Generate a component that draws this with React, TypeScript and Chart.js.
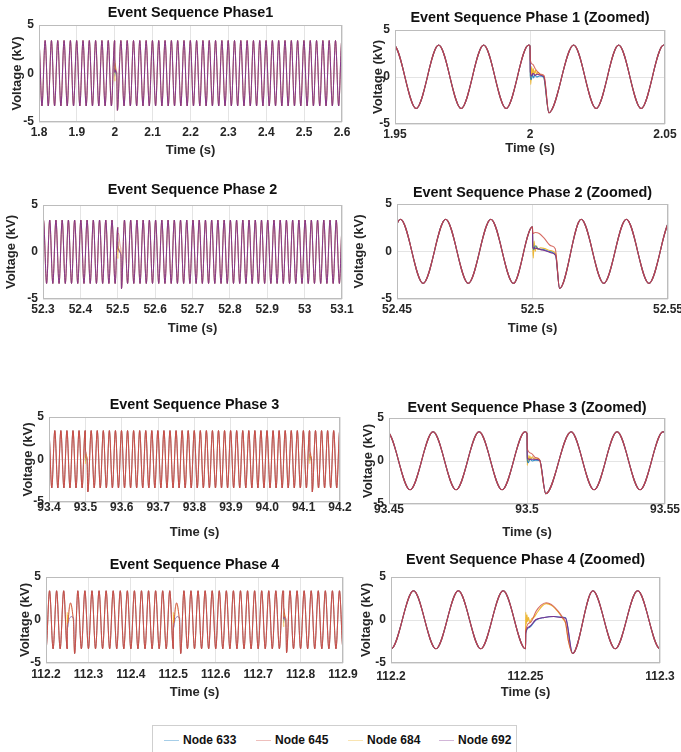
import React, { useEffect, useRef } from 'react';
import { Chart, registerables } from 'chart.js';

Chart.register(...registerables);

// ---------------- DATA ----------------
const NODE_NAMES = ['Node 633', 'Node 645', 'Node 684', 'Node 692'];

// steady-state waveform
const PERIOD_S = 0.016667; // one cycle (s)
const PEAK_KV = 3.4;
const TROUGH_KV = -3.35;

// time of a steady-state crest near each event (s)
const PHASE1_CREST = 1.9995;
const PHASE2_CREST = 52.5013;
const PHASE3_CREST = 93.4993;
const PHASE4_CREST = 112.2417;

// event transients: [ms after event, kV] per node
const EVA_633 = [[0, 3.3], [0.1, 0.1], [0.5, -0.3], [0.9, 0.3], [1.3, -0.1], [1.8, 0.2], [2.5, 0.0], [3.5, 0.1], [5.0, 0.0], [7.0, -3.8]];
const EVA_645 = [[0, 3.3], [0.1, 1.8], [1.0, 1.35], [2.0, 0.85], [3.0, 0.5], [4.0, 0.3], [5.2, 0.15], [7.0, -3.8]];
const EVA_684 = [[0, 3.3], [0.1, 0.9], [0.3, -0.8], [0.6, 1.1], [0.9, 0.2], [1.2, 0.9], [1.6, 0.3], [2.0, 0.7], [2.5, 0.3], [3.0, 0.5], [3.8, 0.25], [5.0, 0.1], [7.0, -3.8]];
const EVA_692 = [[0, 3.3], [0.1, 0.6], [0.6, 0.1], [1.1, 0.4], [1.8, 0.2], [2.8, 0.3], [3.8, 0.2], [5.2, 0.0], [7.0, -3.8]];

const EVB_633 = [[0, 2.6], [0.1, 0.5], [0.5, 0.2], [1.0, 0.6], [2.0, 0.3], [4.0, 0.2], [6.0, 0.0], [8.5, -0.4], [10.0, -3.9]];
const EVB_645 = [[0, 2.6], [0.1, 1.9], [1.0, 2.0], [2.5, 1.9], [4.3, 1.4], [6.8, 0.6], [8.4, 0.3], [10.0, -3.9]];
const EVB_684 = [[0, 2.6], [0.1, 0.7], [0.3, -0.7], [0.6, 1.1], [1.0, 0.0], [1.5, 0.6], [2.0, 0.2], [3.0, 0.4], [4.5, 0.3], [6.5, 0.1], [8.5, -0.2], [10.0, -3.9]];
const EVB_692 = [[0, 2.6], [0.1, 0.4], [1.0, 0.35], [3.0, 0.2], [5.0, 0.05], [7.0, -0.15], [8.6, -0.45], [10.0, -3.9]];

const EVC_633 = [[0, 3.2], [0.1, 0.1], [0.5, -0.2], [1.0, 0.2], [2.0, 0.0], [3.0, 0.1], [4.6, 0.05], [6.8, -3.8]];
const EVC_645 = [[0, 3.2], [0.1, 1.4], [1.5, 0.9], [3.0, 0.4], [4.5, 0.2], [6.8, -3.8]];
const EVC_684 = [[0, 3.2], [0.1, -0.5], [0.35, 0.7], [0.7, 0.0], [1.0, 0.6], [1.4, 0.2], [1.9, 0.5], [2.5, 0.25], [3.2, 0.35], [4.6, 0.1], [6.8, -3.8]];
const EVC_692 = [[0, 3.2], [0.1, 0.3], [1.0, 0.2], [2.5, 0.2], [4.6, 0.1], [6.8, -3.8]];

const EVD_633 = [[0, -3.35], [0.1, -1.6], [1.3, -0.9], [3.9, 0.0], [7.0, 0.3], [10.5, 0.4], [13.0, 0.35], [14.9, 0.25], [17.5, -3.9]];
const EVD_645 = [[0, -3.35], [0.1, -1.2], [1.8, -0.3], [3.9, 1.0], [5.7, 1.7], [7.7, 2.0], [9.6, 1.8], [12.2, 1.0], [14.0, 0.2], [14.9, -0.3], [16.0, -2.5], [17.5, -3.9]];
const EVD_684 = [[0, -3.35], [0.1, 0.9], [0.3, -0.5], [0.55, 0.6], [0.8, -0.2], [1.1, 0.3], [1.6, -0.3], [2.2, 0.1], [3.1, 0.3], [4.4, 0.9], [6.1, 1.6], [7.7, 1.9], [9.6, 1.7], [12.2, 0.9], [14.0, 0.1], [14.9, -0.4], [16.0, -2.5], [17.5, -3.9]];
const EVD_692 = [[0, -3.35], [0.1, -1.5], [1.3, -0.8], [3.9, 0.05], [7.0, 0.3], [10.5, 0.4], [13.0, 0.3], [14.9, 0.2], [17.5, -3.9]];

const EVENT_A = { endMs: 8.8, nodes: [EVA_633, EVA_645, EVA_684, EVA_692] };
const EVENT_B = { endMs: 10.4, nodes: [EVB_633, EVB_645, EVB_684, EVB_692] };
const EVENT_C = { endMs: 8.2, nodes: [EVC_633, EVC_645, EVC_684, EVC_692] };
const EVENT_D = { endMs: 18.0, nodes: [EVD_633, EVD_645, EVD_684, EVD_692] };

// event start times (s)
const PHASE1_EVENTS = [2.0];
const PHASE2_EVENTS = [52.5];
const PHASE3_EVENTS = [93.5, 94.117];
const PHASE4_EVENTS = [112.25, 112.5, 112.76];

// axis ticks
const Y_TICKS = [-5, 0, 5];
const Y_LABELS = ['-5', '0', '5'];
const P1_TICKS = [1.8, 1.9, 2.0, 2.1, 2.2, 2.3, 2.4, 2.5, 2.6];
const P1_LABELS = ['1.8', '1.9', '2', '2.1', '2.2', '2.3', '2.4', '2.5', '2.6'];
const P1Z_TICKS = [1.95, 2.0, 2.05];
const P1Z_LABELS = ['1.95', '2', '2.05'];
const P2_TICKS = [52.3, 52.4, 52.5, 52.6, 52.7, 52.8, 52.9, 53.0, 53.1];
const P2_LABELS = ['52.3', '52.4', '52.5', '52.6', '52.7', '52.8', '52.9', '53', '53.1'];
const P2Z_TICKS = [52.45, 52.5, 52.55];
const P2Z_LABELS = ['52.45', '52.5', '52.55'];
const P3_TICKS = [93.4, 93.5, 93.6, 93.7, 93.8, 93.9, 94.0, 94.1, 94.2];
const P3_LABELS = ['93.4', '93.5', '93.6', '93.7', '93.8', '93.9', '94.0', '94.1', '94.2'];
const P3Z_TICKS = [93.45, 93.5, 93.55];
const P3Z_LABELS = ['93.45', '93.5', '93.55'];
const P4_TICKS = [112.2, 112.3, 112.4, 112.5, 112.6, 112.7, 112.8, 112.9];
const P4_LABELS = ['112.2', '112.3', '112.4', '112.5', '112.6', '112.7', '112.8', '112.9'];
const P4Z_TICKS = [112.2, 112.25, 112.3];
const P4Z_LABELS = ['112.2', '112.25', '112.3'];

// ---------------- STYLE ----------------
const FONT = "'Liberation Sans', Arial, Helvetica, sans-serif";
const NODE_RGB = ['0,114,189', '205,72,62', '237,177,32', '126,47,142'];
const LEGEND_COLORS = ['rgba(0,114,189,0.35)', 'rgba(205,72,62,0.35)', 'rgba(237,177,32,0.35)', 'rgba(126,47,142,0.35)'];
const RP = 24;

// draw orders (first = on top) and per-node opacity
const FULL_PURPLE = { order: [3, 1, 2, 0], alpha: [0.3, 0.6, 0.5, 1], lw: 0.9 };
const FULL_RED = { order: [1, 3, 2, 0], alpha: [0.3, 1, 0.5, 0.5], lw: 0.9 };
const ZOOM_STYLE = { order: [1, 3, 0, 2], alpha: [0.8, 0.8, 0.9, 1], lw: 1.1 };

type Box = { L: number; R: number; T: number; B: number; titleY: number; ytc: number; xtickY: number; xtitleY: number };

const PANELS = [
  { title: 'Event Sequence Phase1', xmin: 1.8, xmax: 2.6, ticks: P1_TICKS, labels: P1_LABELS, crest: PHASE1_CREST, evTimes: PHASE1_EVENTS, evDefs: [EVENT_A], style: FULL_PURPLE,
    box: { L: 39, R: 342, T: 25, B: 122, titleY: 13, ytc: 17, xtickY: 133, xtitleY: 150 } },
  { title: 'Event Sequence Phase 1 (Zoomed)', xmin: 1.95, xmax: 2.05, ticks: P1Z_TICKS, labels: P1Z_LABELS, crest: PHASE1_CREST, evTimes: PHASE1_EVENTS, evDefs: [EVENT_A], style: ZOOM_STYLE,
    box: { L: 395, R: 665, T: 30, B: 124, titleY: 18, ytc: 378, xtickY: 135, xtitleY: 148 } },
  { title: 'Event Sequence Phase 2', xmin: 52.3, xmax: 53.1, ticks: P2_TICKS, labels: P2_LABELS, crest: PHASE2_CREST, evTimes: PHASE2_EVENTS, evDefs: [EVENT_B], style: FULL_PURPLE,
    box: { L: 43, R: 342, T: 205, B: 299, titleY: 190, ytc: 11, xtickY: 310, xtitleY: 328 } },
  { title: 'Event Sequence Phase 2 (Zoomed)', xmin: 52.45, xmax: 52.55, ticks: P2Z_TICKS, labels: P2Z_LABELS, crest: PHASE2_CREST, evTimes: PHASE2_EVENTS, evDefs: [EVENT_B], style: ZOOM_STYLE,
    box: { L: 397, R: 668, T: 204, B: 299, titleY: 193, ytc: 359, xtickY: 310, xtitleY: 328 } },
  { title: 'Event Sequence Phase 3', xmin: 93.4, xmax: 94.2, ticks: P3_TICKS, labels: P3_LABELS, crest: PHASE3_CREST, evTimes: PHASE3_EVENTS, evDefs: [EVENT_C, EVENT_C], style: FULL_RED,
    box: { L: 49, R: 340, T: 417, B: 502, titleY: 405, ytc: 28, xtickY: 508, xtitleY: 532 } },
  { title: 'Event Sequence Phase 3 (Zoomed)', xmin: 93.45, xmax: 93.55, ticks: P3Z_TICKS, labels: P3Z_LABELS, crest: PHASE3_CREST, evTimes: [PHASE3_EVENTS[0]], evDefs: [EVENT_C], style: ZOOM_STYLE,
    box: { L: 389, R: 665, T: 418, B: 504, titleY: 408, ytc: 368, xtickY: 510, xtitleY: 532 } },
  { title: 'Event Sequence Phase 4', xmin: 112.2, xmax: 112.9, ticks: P4_TICKS, labels: P4_LABELS, crest: PHASE4_CREST, evTimes: PHASE4_EVENTS, evDefs: [EVENT_D, EVENT_D, EVENT_A], style: FULL_RED,
    box: { L: 46, R: 343, T: 577, B: 663, titleY: 565, ytc: 25, xtickY: 675, xtitleY: 692 } },
  { title: 'Event Sequence Phase 4 (Zoomed)', xmin: 112.2, xmax: 112.3, ticks: P4Z_TICKS, labels: P4Z_LABELS, crest: PHASE4_CREST, evTimes: [PHASE4_EVENTS[0]], evDefs: [EVENT_D], style: ZOOM_STYLE,
    box: { L: 391, R: 660, T: 577, B: 663, titleY: 560, ytc: 366, xtickY: 677, xtitleY: 692 } },
];

type Ev = { t0: number; endMs: number; nodes: number[][][] };

function buildSeries(xmin: number, xmax: number, crest: number, events: Ev[], ni: number) {
  const half = PERIOD_S / 2;
  const kStart = Math.floor((xmin - crest) / half) - 1;
  const kEnd = Math.ceil((xmax - crest) / half) + 1;
  const pts: { x: number; y: number }[] = [];
  for (let k = kStart; k <= kEnd; k++) {
    const t = crest + k * half;
    if (events.some((e) => t >= e.t0 - 1e-7 && t <= e.t0 + e.endMs / 1000)) continue;
    pts.push({ x: t, y: Math.abs(k) % 2 === 0 ? PEAK_KV : TROUGH_KV });
  }
  for (const e of events) for (const [ms, v] of e.nodes[ni]) pts.push({ x: e.t0 + ms / 1000, y: v });
  pts.sort((a, b) => a.x - b.x);
  return pts;
}

function geometry(b: Box) {
  const left = b.ytc - 10;
  const top = b.titleY - 10;
  const bottom = b.xtitleY + 10;
  const right = b.R + RP;
  return { left, top, w: right - left, h: bottom - top, YW: b.L - left, XH: bottom - b.B };
}

const boxPlugin = {
  id: 'axesBox',
  afterDraw(chart: any) {
    const { ctx, chartArea: a } = chart;
    ctx.save();
    ctx.strokeStyle = '#bcbcbc';
    ctx.lineWidth = 1;
    ctx.strokeRect(Math.round(a.left) + 0.5, Math.round(a.top) + 0.5, Math.round(a.right - a.left) - 1, Math.round(a.bottom - a.top) - 1);
    ctx.restore();
  },
};

function makeConfig(p: any): any {
  const b: Box = p.box;
  const g = geometry(b);
  const st = p.style;
  const events: Ev[] = p.evTimes.map((t0: number, i: number) => ({ t0, endMs: p.evDefs[i].endMs, nodes: p.evDefs[i].nodes }));
  const datasets = st.order.map((ni: number) => ({
    label: NODE_NAMES[ni],
    data: buildSeries(p.xmin, p.xmax, p.crest, events, ni),
    borderColor: `rgba(${NODE_RGB[ni]},${st.alpha[ni]})`,
    borderWidth: st.lw,
    pointRadius: 0,
    pointHoverRadius: 0,
    cubicInterpolationMode: 'monotone',
    fill: false,
  }));
  const tickFont = { family: FONT, size: 12, weight: 'bold' as const, lineHeight: 1.2 };
  const axisFont = { family: FONT, size: 13, weight: 'bold' as const, lineHeight: 1.2 };
  const titleFont = { family: FONT, size: 14.4, weight: 'bold' as const, lineHeight: 1.2 };
  const tlh = 14.4 * 1.2;
  return {
    type: 'line',
    data: { datasets },
    options: {
      responsive: false,
      animation: false,
      events: [],
      layout: { padding: { left: 0, right: RP, top: 0, bottom: 0 } },
      plugins: {
        legend: { display: false },
        tooltip: { enabled: false },
        title: {
          display: true,
          text: p.title,
          fullSize: false,
          color: '#111',
          font: titleFont,
          padding: { top: 10 - tlh / 2, bottom: b.T - b.titleY - tlh / 2 },
        },
      },
      scales: {
        x: {
          type: 'linear',
          min: p.xmin,
          max: p.xmax,
          afterBuildTicks: (s: any) => { s.ticks = p.ticks.map((v: number) => ({ value: v })); },
          afterFit: (s: any) => { s.height = g.XH; },
          ticks: {
            autoSkip: false,
            maxRotation: 0,
            padding: b.xtickY - b.B - 7.2,
            color: '#262626',
            font: tickFont,
            callback: (_v: any, i: number) => p.labels[i],
          },
          grid: { color: '#e4e4e4', drawTicks: false, lineWidth: 1 },
          border: { display: false },
          title: { display: true, text: 'Time (s)', color: '#262626', font: axisFont, padding: { top: 0, bottom: 2.2 } },
        },
        y: {
          type: 'linear',
          min: -5,
          max: 5,
          afterBuildTicks: (s: any) => { s.ticks = Y_TICKS.map((v) => ({ value: v })); },
          afterFit: (s: any) => { s.width = g.YW; },
          ticks: {
            padding: 5,
            color: '#262626',
            font: tickFont,
            callback: (_v: any, i: number) => Y_LABELS[i],
          },
          grid: { color: '#e4e4e4', drawTicks: false, lineWidth: 1 },
          border: { display: false },
          title: { display: true, text: 'Voltage (kV)', color: '#262626', font: axisFont, padding: { top: 2.2, bottom: 0 } },
        },
      },
    },
    plugins: [boxPlugin],
  };
}

function Panel({ p }: { p: any }) {
  const ref = useRef<HTMLCanvasElement>(null);
  const g = geometry(p.box);
  useEffect(() => {
    const chart = new Chart(ref.current as HTMLCanvasElement, makeConfig(p));
    return () => chart.destroy();
  }, []);
  return (
    <canvas
      ref={ref}
      width={g.w}
      height={g.h}
      style={{ position: 'absolute', left: g.left, top: g.top, width: g.w, height: g.h }}
    />
  );
}

const LEGEND_X = [11, 103, 195, 286];

function Legend() {
  return (
    <div style={{ position: 'absolute', left: 152, top: 725, width: 365, height: 40, border: '1px solid #cfcfcf', background: '#fff', boxSizing: 'border-box' }}>
      {NODE_NAMES.map((n, i) => (
        <React.Fragment key={n}>
          <div style={{ position: 'absolute', left: LEGEND_X[i], top: 14, width: 15, height: 1, background: LEGEND_COLORS[i] }} />
          <div style={{ position: 'absolute', left: LEGEND_X[i] + 19, top: 7, fontFamily: FONT, fontWeight: 'bold', fontSize: 12, lineHeight: '15px', color: '#111', whiteSpace: 'nowrap' }}>{n}</div>
        </React.Fragment>
      ))}
    </div>
  );
}

export default function App() {
  return (
    <div style={{ position: 'absolute', left: 0, top: 0, width: 681, height: 752, background: '#fff', overflow: 'hidden' }}>
      {PANELS.map((p, i) => <Panel key={i} p={p} />)}
      <Legend />
    </div>
  );
}
